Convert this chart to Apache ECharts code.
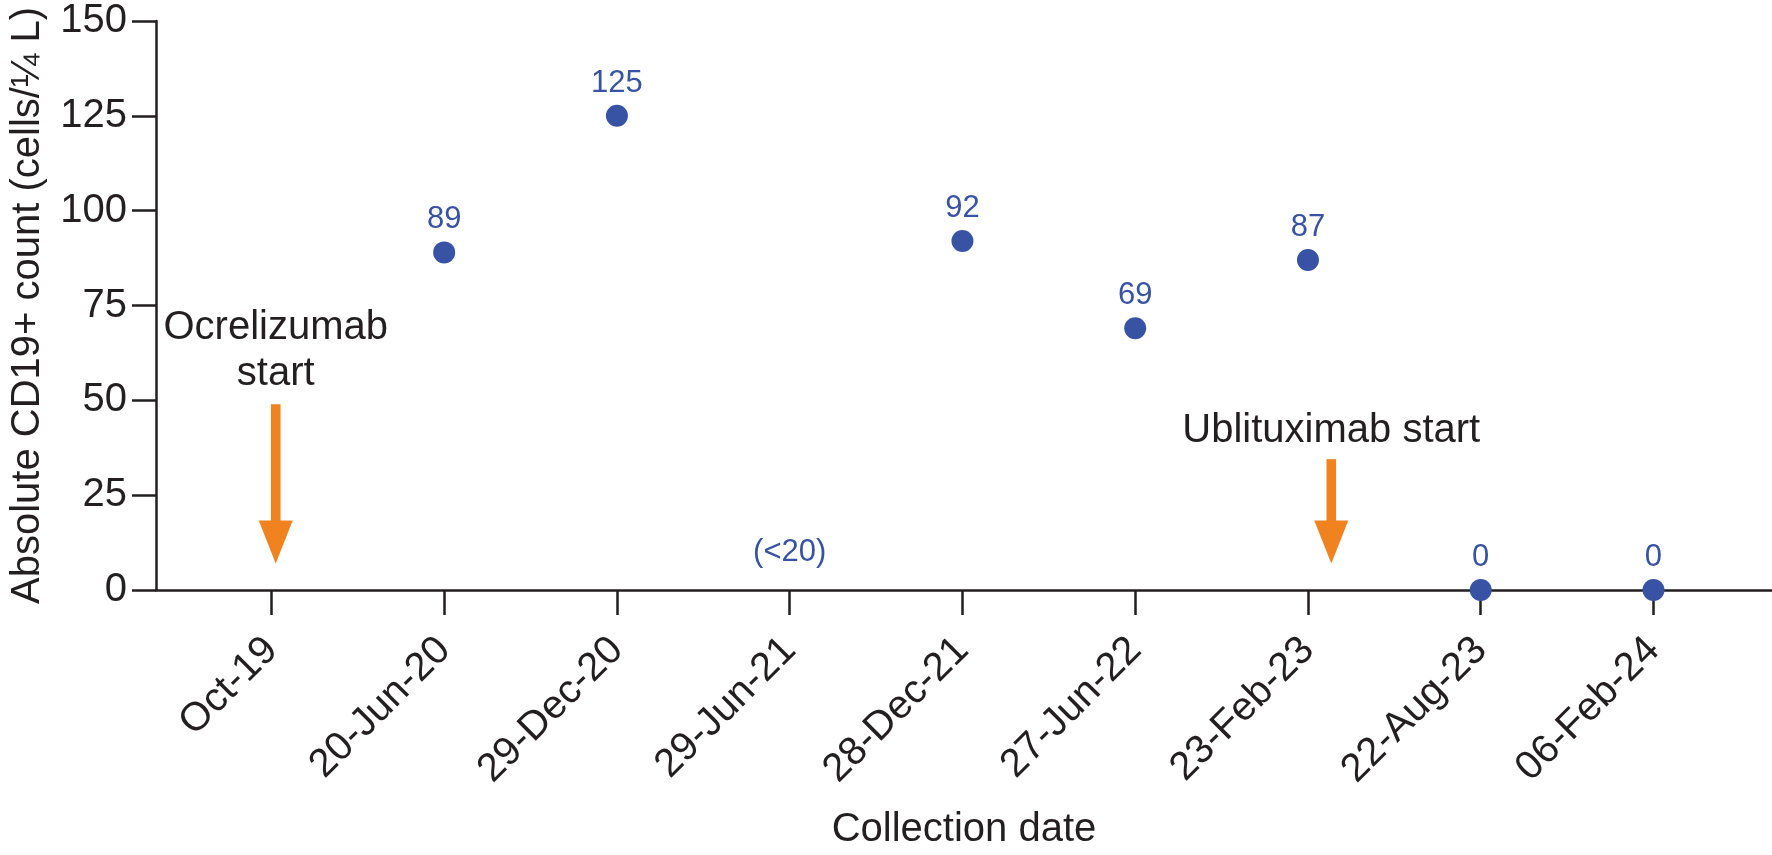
<!DOCTYPE html>
<html>
<head>
<meta charset="utf-8">
<script src="https://cdn.jsdelivr.net/npm/echarts@6/dist/echarts.min.js"></script>
<style>
html,body{margin:0;padding:0;background:#fff;}
#chart{width:1772px;height:855px;}
</style>
</head>
<body>
<div id="chart"></div>
<script>
// ---- data ----
var categories = ['Oct-19','20-Jun-20','29-Dec-20','29-Jun-21','28-Dec-21','27-Jun-22','23-Feb-23','22-Aug-23','06-Feb-24'];
var counts = [null, 89, 125, null, 92, 69, 87, 0, 0];
var yTicks = [0, 25, 50, 75, 100, 125, 150];
// note below detection: [category index, value position, text]
var noteIndex = [3];
var noteValue = [10];
var noteText = ['(<20)'];
// treatment start arrows: x (category index), top value, tip value
var arrowX = [0.025, 6.135];
var arrowTop = [49, 34.5];
var arrowTip = [7, 7];
// treatment labels
var treatText = ['Ocrelizumab\nstart', 'Ublituximab start'];
var treatX = [0.025, 6.135];
var treatY = [63, 42];

var BLUE = '#3953a4';
var ORANGE = '#f0821f';
var INK = '#231f20';
var FONT = '"Liberation Sans", Arial, Helvetica, sans-serif';

var pointData = [];
counts.forEach(function (v, i) { if (v !== null) pointData.push([i, v]); });
var noteData = noteIndex.map(function (x, i) { return [x, noteValue[i], noteText[i]]; });
var arrowData = arrowX.map(function (x, i) { return [x, arrowTop[i], arrowTip[i]]; });
var treatData = treatX.map(function (x, i) { return [x, treatY[i], treatText[i]]; });
var catIdx = categories.map(function (c, i) { return i; });

var chart = echarts.init(document.getElementById('chart'), null, {renderer: 'canvas'});
chart.setOption({
  backgroundColor: '#ffffff',
  animation: false,
  grid: {left: 151, right: 0, top: 21, bottom: 259, containLabel: false},
  xAxis: {
    type: 'value', min: -0.668, max: 8.686,
    name: 'Collection date', nameLocation: 'middle', nameGap: 220,
    nameTextStyle: {fontSize: 40, color: INK, fontFamily: FONT},
    axisLine: {show: true, onZero: false, lineStyle: {color: INK, width: 2.5}},
    axisTick: {show: true, customValues: catIdx, length: 25, inside: false, lineStyle: {color: INK, width: 2.5}},
    axisLabel: {customValues: catIdx, rotate: 45, fontSize: 40, margin: 54, color: INK, fontFamily: FONT,
      formatter: function (v) { return categories[Math.round(v)]; }},
    splitLine: {show: false}
  },
  yAxis: {
    type: 'value', min: 0, max: 150, interval: 25,
    name: 'Absolute CD19+ count (cells/\u00BC L)', nameLocation: 'middle', nameRotate: 90, nameGap: 108,
    nameTextStyle: {fontSize: 40, color: INK, fontFamily: FONT},
    axisLine: {show: true, onZero: false, lineStyle: {color: INK, width: 2.5}},
    axisTick: {show: true, length: 24, inside: false, lineStyle: {color: INK, width: 2.5}},
    axisLabel: {fontSize: 40, margin: 29, color: INK, fontFamily: FONT,
      formatter: function (v) { return yTicks.indexOf(v) >= 0 ? String(v) : ''; }},
    splitLine: {show: false}
  },
  series: [
    {
      type: 'scatter', data: pointData, symbol: 'circle', symbolSize: 22,
      itemStyle: {color: BLUE, opacity: 1},
      label: {show: true, position: 'top', distance: 6, fontSize: 31, color: BLUE, opacity: 1, fontFamily: FONT,
        formatter: function (p) { return String(p.value[1]); }},
      z: 5
    },
    {
      type: 'custom', data: noteData, silent: true,
      renderItem: function (params, api) {
        var p = api.coord([api.value(0), api.value(1)]);
        return {type: 'text', x: p[0], y: p[1],
          style: {text: noteText[params.dataIndex], fontSize: 31, fill: BLUE, fontFamily: FONT, align: 'center', verticalAlign: 'middle'}};
      }
    },
    {
      type: 'custom', data: arrowData, silent: true,
      renderItem: function (params, api) {
        var top = api.coord([api.value(0), api.value(1)]);
        var tip = api.coord([api.value(0), api.value(2)]);
        var headLen = 43, headHalf = 17, shaftHalf = 4.8;
        var x = tip[0];
        return {type: 'group', children: [
          {type: 'rect', shape: {x: x - shaftHalf, y: top[1], width: shaftHalf * 2, height: tip[1] - headLen - top[1] + 1}, style: {fill: ORANGE}},
          {type: 'polygon', shape: {points: [[x - headHalf, tip[1] - headLen], [x + headHalf, tip[1] - headLen], [x, tip[1]]]}, style: {fill: ORANGE}}
        ]};
      }
    },
    {
      type: 'custom', data: treatData, silent: true,
      renderItem: function (params, api) {
        var p = api.coord([api.value(0), api.value(1)]);
        return {type: 'text', x: p[0], y: p[1],
          style: {text: treatText[params.dataIndex], fontSize: 40, lineHeight: 46, fill: INK, fontFamily: FONT, align: 'center', verticalAlign: 'middle'}};
      }
    }
  ]
});
</script>
</body>
</html>
